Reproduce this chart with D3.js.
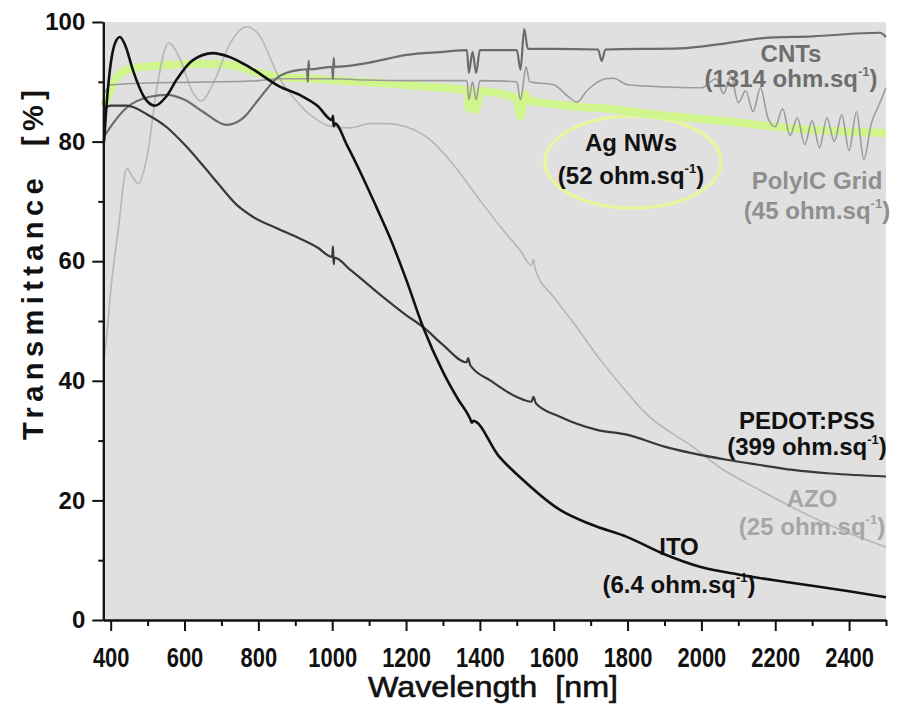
<!DOCTYPE html>
<html>
<head>
<meta charset="utf-8">
<script src="https://cdn.jsdelivr.net/npm/d3@7"></script>
<style>
  body { margin: 0; background: #fff; }
  svg { display: block; }
  .lbl { font-family: "Liberation Sans", Arial, sans-serif; font-weight: bold; font-size: 24px; }
</style>
</head>
<body>
<svg width="901" height="707"></svg>
<script>
// transmittance spectra, [wavelength nm, T %]
const agNws = [[382,86],[395,88],[420,91],[460,92.3],[550,92.8],[650,93],[723,92.8],[800,91.5],[858,90.8],[950,90.5],
  [1050,90.1],[1130,89.8],[1250,89.2],[1365,88.6],[1370,85.5],[1380,88.5],[1390,85.3],[1400,88.4],[1500,87.2],
  [1510,84.2],[1520,88],[1530,86.9],[1600,86.3],[1671,85.8],[1750,85.5],[1850,84.7],[1943,84.1],[2100,83.2],
  [2213,82.4],[2350,81.8],[2500,81.4]];

const azo = [[382,43.5],[390,48],[400,55],[420,65],[444,75.5],[460,74],[475,73],[500,78],[525,89],[557,96.5],
  [590,93.5],[620,88.5],[645,86.8],[680,90],[720,96],[768,99.2],[800,98],[858,90.5],[900,87],[950,84],[1000,82.5],
  [1050,82.3],[1100,83],[1150,83],[1200,82.5],[1266,80.3],[1330,76],[1400,70.2],[1463,65.2],[1508,61.9],
  [1540,59.3],[1545,60.3],[1550,58.6],[1600,54],[1650,50],[1726,43.5],[1771,40.1],[1850,34.5],[1978,28.9],
  [2050,25.5],[2159,21.7],[2300,17.2],[2400,14.5],[2500,12.2]];

const polyic = [[382,88],[400,89.5],[500,89.8],[600,89.9],[700,90],[800,90.2],[858,90.5],[1000,90.5],[1094,90.3],
  [1200,90.2],[1365,90.2],[1370,87],[1380,90],[1390,87],[1400,90.2],[1500,90],[1510,87],[1525,92.5],[1535,90],
  [1600,89.5],[1640,87.5],[1663,86.6],[1690,88.5],[1740,90.5],[1761,90.6],[1800,89.5],[1850,89.3],[1923,89.1],
  [2000,89],[2040,90.5],[2060,88],[2080,91],[2100,86.5],[2120,88.5],[2140,85],[2160,89],[2180,84],[2200,82.5],
  [2220,85.5],[2240,81],[2260,84],[2280,79.5],[2300,83.5],[2320,79],[2340,84],[2360,80],[2380,84.5],[2400,78.5],
  [2420,85],[2440,77],[2460,83],[2480,86],[2500,89]];

const cnts = [[382,80.8],[400,82.5],[440,85.5],[506,87.5],[552,87.8],[600,87],[650,85],[714,82.8],[760,84],
  [800,87],[858,91],[912,92],[932,92.1],[934,90],[936,93.5],[938,92.1],[1000,92.5],[1002,90.5],[1004,94],
  [1006,92.5],[1100,93.2],[1202,94.5],[1300,95],[1365,95.3],[1370,91.5],[1380,95],[1390,91.5],[1400,95.3],
  [1500,95.3],[1510,92],[1520,98.8],[1530,95.5],[1600,95.5],[1720,95.4],[1730,93.5],[1740,95.4],[1943,95.6],
  [2050,96.3],[2167,97.3],[2300,97.6],[2484,98.2],[2500,97.5]];

const pedot = [[382,85.5],[400,86],[444,86],[500,84.5],[552,82.4],[600,79.5],[650,76],[688,73.2],[740,69.5],
  [786,67.4],[850,65.5],[912,63.8],[960,62.3],[1000,60.7],[1002,62.5],[1004,59.5],[1006,60.6],[1050,58.5],
  [1138,54],[1200,51],[1246,49],[1300,46],[1364,43.1],[1368,43.8],[1374,42.6],[1430,40],[1500,37.3],
  [1540,36.5],[1545,37.3],[1552,36.2],[1617,34],[1717,31.8],[1798,31],[1900,29],[2069,26.8],[2150,26],
  [2248,25.1],[2350,24.5],[2500,24]];

const ito = [[382,80],[390,87],[400,93],[412,96.5],[425,97.5],[440,96],[460,92],[490,87.5],[520,86],[550,87.5],
  [580,90.5],[620,93.5],[677,94.8],[720,94.2],[780,92.3],[858,89.2],[912,87.8],[960,86],[1000,83.6],[1002,84.3],
  [1004,82.6],[1008,83],[1040,79.4],[1083,74],[1120,69],[1156,64],[1200,57],[1246,49],[1300,41.5],[1340,37],
  [1374,33.6],[1378,33.0],[1382,33.3],[1450,27.5],[1517,23.4],[1617,18.4],[1700,16],[1798,13.9],[1900,11],
  [1996,8.9],[2100,7.6],[2248,6.2],[2400,4.8],[2500,3.8]];

const series = [
  { name: "Ag NWs", data: agNws, color: "#d0f58c", width: 8 },
  { name: "AZO", data: azo, color: "#b6b6b6", width: 1.6 },
  { name: "PolyIC Grid", data: polyic, color: "#9b9b9b", width: 1.6 },
  { name: "CNTs", data: cnts, color: "#6c6c6c", width: 2.2 },
  { name: "PEDOT:PSS", data: pedot, color: "#383838", width: 2.2 },
  { name: "ITO", data: ito, color: "#111111", width: 2.6 }
];

const xMajor = [400, 600, 800, 1000, 1200, 1400, 1600, 1800, 2000, 2200, 2400];
const xMinor = [500, 700, 900, 1100, 1300, 1500, 1700, 1900, 2100, 2300, 2500];
const yMajor = [0, 20, 40, 60, 80, 100];
const yMinor = [10, 30, 50, 70, 90];

// text labels: [title, sub value, colour, cx, baseline of title, baseline of sub]
const labels = [
  ["CNTs", "1314", "#6e6e6e", 791, 62, 87],
  ["Ag NWs", "52", "#111", 631, 151, 184],
  ["PolyIC Grid", "45", "#8f8f8f", 817, 189, 219],
  ["PEDOT:PSS", "399", "#111", 807, 429, 455],
  ["AZO", "25", "#a6a6a6", 812, 507, 535],
  ["ITO", "6.4", "#111", 679, 555, 593]
];

const svg = d3.select("svg");

const x = d3.scaleLinear().domain([380, 2500]).range([103.3, 886]);
const y = d3.scaleLinear().domain([0, 100]).range([620, 22]);

svg.append("rect")
  .attr("x", x(380)).attr("y", y(100))
  .attr("width", x(2500) - x(380)).attr("height", y(0) - y(100))
  .attr("fill", "#e0e0e0");

// highlight ellipse round the Ag NWs label
svg.append("ellipse")
  .attr("cx", 633).attr("cy", 162).attr("rx", 88).attr("ry", 46)
  .attr("fill", "none").attr("stroke", "#e9f59e").attr("stroke-width", 3.5);

const line = d3.line()
  .x(d => x(d[0]))
  .y(d => y(d[1]))
  .curve(d3.curveMonotoneX);

svg.append("g").selectAll("path")
  .data(series)
  .join("path")
  .attr("d", d => line(d.data))
  .attr("fill", "none")
  .attr("stroke", d => d.color)
  .attr("stroke-width", d => d.width)
  .attr("stroke-linejoin", "round");

// axes
const yAxis = svg.append("g")
  .attr("transform", "translate(" + x(380) + ",0)")
  .call(d3.axisLeft(y).tickValues(yMajor).tickSize(11).tickSizeOuter(0).tickPadding(7));
svg.append("g")
  .attr("transform", "translate(" + x(380) + ",0)")
  .call(d3.axisLeft(y).tickValues(yMinor).tickSize(5).tickSizeOuter(0).tickFormat(""));

const xAxis = svg.append("g")
  .attr("transform", "translate(0," + y(0) + ")")
  .call(d3.axisBottom(x).tickValues(xMajor).tickSize(11).tickSizeOuter(0).tickPadding(17)
    .tickFormat(d3.format("d")));
svg.append("g")
  .attr("transform", "translate(0," + y(0) + ")")
  .call(d3.axisBottom(x).tickValues(xMinor).tickSize(6).tickSizeOuter(0).tickFormat(""));

svg.selectAll(".domain, .tick line").attr("stroke", "#111").attr("stroke-width", 2);

yAxis.selectAll("text")
  .attr("class", "lbl")
  .style("font-size", "24px")
  .attr("fill", "#111");

// the tick labels are set in a narrow face in the figure
xAxis.selectAll("text")
  .attr("class", "lbl")
  .style("font-size", "27px")
  .attr("fill", "#111")
  .attr("textLength", d => String(d).length * 12.2)
  .attr("lengthAdjust", "spacingAndGlyphs");

// axis titles
svg.append("text")
  .attr("class", "lbl")
  .attr("transform", "translate(43,265) rotate(-90)")
  .attr("text-anchor", "middle")
  .attr("textLength", 350)
  .attr("lengthAdjust", "spacing")
  .style("font-size", "29px")
  .attr("fill", "#111")
  .attr("xml:space", "preserve")
  .text("Transmittance  [%]");

svg.append("text")
  .attr("class", "lbl")
  .attr("x", 493).attr("y", 697)
  .attr("text-anchor", "middle")
  .attr("textLength", 250)
  .attr("lengthAdjust", "spacingAndGlyphs")
  .style("font-size", "29px")
  .style("font-weight", "normal")
  .attr("stroke", "#111").attr("stroke-width", 0.6)
  .attr("fill", "#111")
  .attr("xml:space", "preserve")
  .text("Wavelength  [nm]");

// curve labels
labels.forEach(l => {
  svg.append("text")
    .attr("class", "lbl")
    .attr("x", l[3]).attr("y", l[4])
    .attr("text-anchor", "middle")
    .attr("fill", l[2])
    .text(l[0]);
  const t = svg.append("text")
    .attr("class", "lbl")
    .attr("x", l[3]).attr("y", l[5])
    .attr("text-anchor", "middle")
    .attr("fill", l[2]);
  t.append("tspan").text("(" + l[1] + " ohm.sq");
  t.append("tspan").attr("dy", -11).style("font-size", "13px").text("-1");
  t.append("tspan").attr("dy", 11).text(")");
});
</script>
</body>
</html>
